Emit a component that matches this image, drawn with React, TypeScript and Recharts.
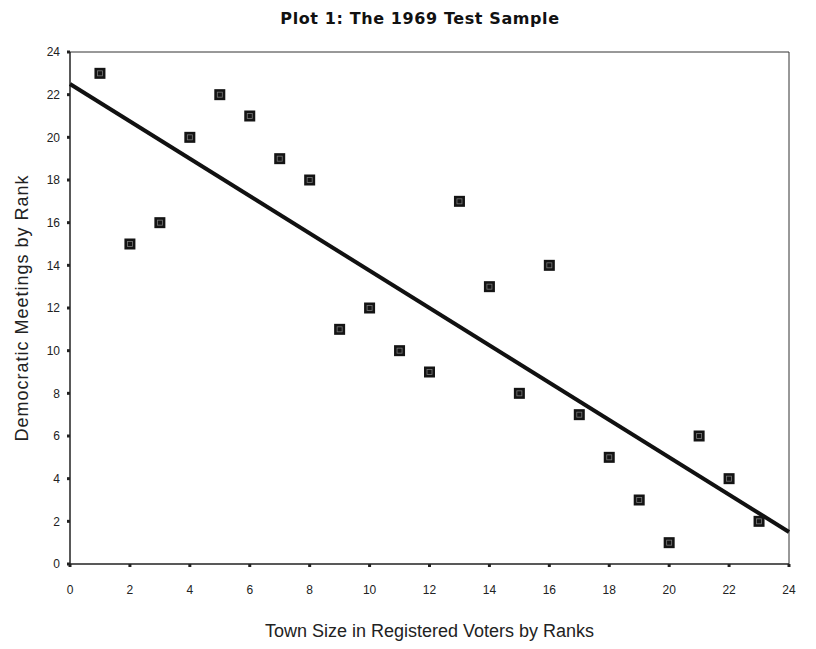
import { Label, ReferenceLine, Scatter, ScatterChart, XAxis, YAxis } from "recharts";

// Town size rank (x) vs Democratic meetings rank (y), 1969 sample
const townRanks = [1, 2, 3, 4, 5, 6, 7, 8, 9, 10, 11, 12, 13, 14, 15, 16, 17, 18, 19, 20, 21, 22, 23];
const meetingRanks = [23, 15, 16, 20, 22, 21, 19, 18, 11, 12, 10, 9, 17, 13, 8, 14, 7, 5, 3, 1, 6, 4, 2];
// fitted line at both ends
const fitX = [0, 24];
const fitY = [22.5, 1.5];
const ticks = [0, 2, 4, 6, 8, 10, 12, 14, 16, 18, 20, 22, 24];

const points = townRanks.map((x, i) => ({ x, y: meetingRanks[i] }));
const fitLine = fitX.map((x, i) => ({ x, y: fitY[i] }));

const font = "'Liberation Sans', Arial, sans-serif";

function SquareMark(props: any) {
  const { cx, cy } = props;
  if (cx == null || cy == null) return <g />;
  return (
    <g>
      <rect x={cx - 5.5} y={cy - 5.5} width={11} height={11} fill="#141414" />
      <rect x={cx - 2.5} y={cy - 2.5} width={5} height={5} fill="none" stroke="#7a7a7a" strokeWidth={0.8} />
    </g>
  );
}

export default function App() {
  return (
    <div style={{ position: "absolute", left: 0, top: 0, width: 816, height: 649, background: "#fff" }}>
      <div
        style={{
          position: "absolute",
          left: 0,
          width: 840,
          top: 9,
          textAlign: "center",
          fontFamily: "'DejaVu Sans', sans-serif",
          fontWeight: 900,
          fontSize: 16,
          letterSpacing: 0.6,
          color: "#111",
        }}
      >
        Plot 1: The 1969 Test Sample
      </div>
      <ScatterChart width={816} height={649} margin={{ top: 52, right: 27, bottom: 55, left: 0 }}>
        <XAxis
          type="number"
          dataKey="x"
          domain={[0, 24]}
          ticks={ticks}
          interval={0}
          height={30}
          axisLine={{ stroke: "#222", strokeWidth: 1.5 }}
          tickLine={{ stroke: "#222", strokeWidth: 3 }}
          tickSize={3}
          tickMargin={18}
          tick={{ fill: "#222", fontSize: 12, fontFamily: font }}
        >
          <Label
            value="Town Size in Registered Voters by Ranks"
            position="bottom"
            offset={30}
            style={{ fill: "#222", fontSize: 18, fontFamily: font }}
          />
        </XAxis>
        <YAxis
          type="number"
          dataKey="y"
          domain={[0, 24]}
          ticks={ticks}
          interval={0}
          width={70}
          axisLine={{ stroke: "#222", strokeWidth: 1.5 }}
          tickLine={{ stroke: "#222", strokeWidth: 3 }}
          tickSize={3}
          tickMargin={7}
          tick={{ fill: "#222", fontSize: 12, fontFamily: font }}
        >
          <Label
            value="Democratic Meetings by Rank"
            angle={-90}
            position="insideLeft"
            offset={22}
            style={{ fill: "#222", fontSize: 18, letterSpacing: 1, fontFamily: font, textAnchor: "middle" }}
          />
        </YAxis>
        <ReferenceLine y={24} stroke="#333" strokeWidth={1} />
        <ReferenceLine x={24} stroke="#333" strokeWidth={1} />
        <Scatter
          data={fitLine}
          line={{ stroke: "#111", strokeWidth: 4 }}
          shape={() => <g />}
          isAnimationActive={false}
        />
        <Scatter data={points} shape={SquareMark} isAnimationActive={false} />
      </ScatterChart>
    </div>
  );
}
